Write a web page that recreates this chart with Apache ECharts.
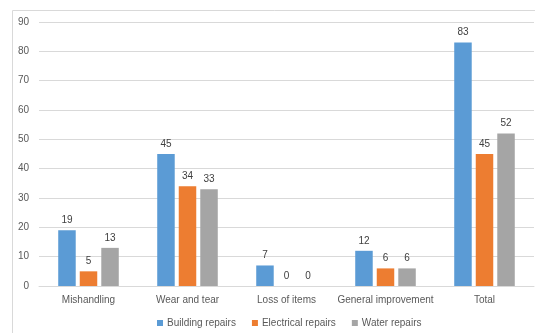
<!DOCTYPE html>
<html>
<head>
<meta charset="utf-8">
<script src="https://cdn.jsdelivr.net/npm/echarts@6/dist/echarts.min.js"></script>
<style>html,body{margin:0;padding:0;background:#fff;}#c{width:535px;height:333px;}</style>
</head>
<body>
<div id="c"></div>
<script>
const categories = ['Mishandling', 'Wear and tear', 'Loss of items', 'General improvement', 'Total'];
const buildingRepairs = [19, 45, 7, 12, 83];
const electricalRepairs = [5, 34, 0, 6, 45];
const waterRepairs = [13, 33, 0, 6, 52];
const seriesNames = ['Building repairs', 'Electrical repairs', 'Water repairs'];
const colors = ['#5B9BD5', '#ED7D31', '#A5A5A5'];

const font = '"Liberation Sans", Arial, sans-serif';
const chart = echarts.init(document.getElementById('c'), null, {renderer: 'canvas'});
function mk(name, data, color) {
  return {
    name: name, type: 'bar', data: data, barWidth: 17.5, barGap: '23%',
    itemStyle: {color: color},
    label: {show: true, position: 'top', distance: 5, color: '#404040', fontSize: 10, fontFamily: font}
  };
}
chart.setOption({
  animation: false,
  textStyle: {fontFamily: font},
  graphic: [{type: 'rect', shape: {x: 12.5, y: 10.5, width: 600, height: 400}, style: {fill: 'none', stroke: '#d9d9d9', lineWidth: 1}, silent: true}],
  grid: {left: 39, right: 1, top: 22, bottom: 47, containLabel: false},
  legend: {
    bottom: 0, left: 152, itemWidth: 6, itemHeight: 6, itemGap: 16,
    icon: 'rect', textStyle: {color: '#595959', fontSize: 10, fontFamily: font, padding: [0, 0, 0, -1]},
    data: seriesNames
  },
  xAxis: {
    type: 'category', data: categories,
    axisLine: {lineStyle: {color: '#d9d9d9'}}, axisTick: {show: false},
    axisLabel: {color: '#595959', fontSize: 10, fontFamily: font, margin: 9, interval: 0}
  },
  yAxis: {
    type: 'value', min: 0, max: 90, interval: 10,
    axisLine: {show: false}, axisTick: {show: false},
    splitLine: {lineStyle: {color: '#d9d9d9'}},
    axisLabel: {color: '#595959', fontSize: 10, fontFamily: font, margin: 10}
  },
  series: [
    mk(seriesNames[0], buildingRepairs, colors[0]),
    mk(seriesNames[1], electricalRepairs, colors[1]),
    mk(seriesNames[2], waterRepairs, colors[2])
  ]
});
</script>
</body>
</html>
